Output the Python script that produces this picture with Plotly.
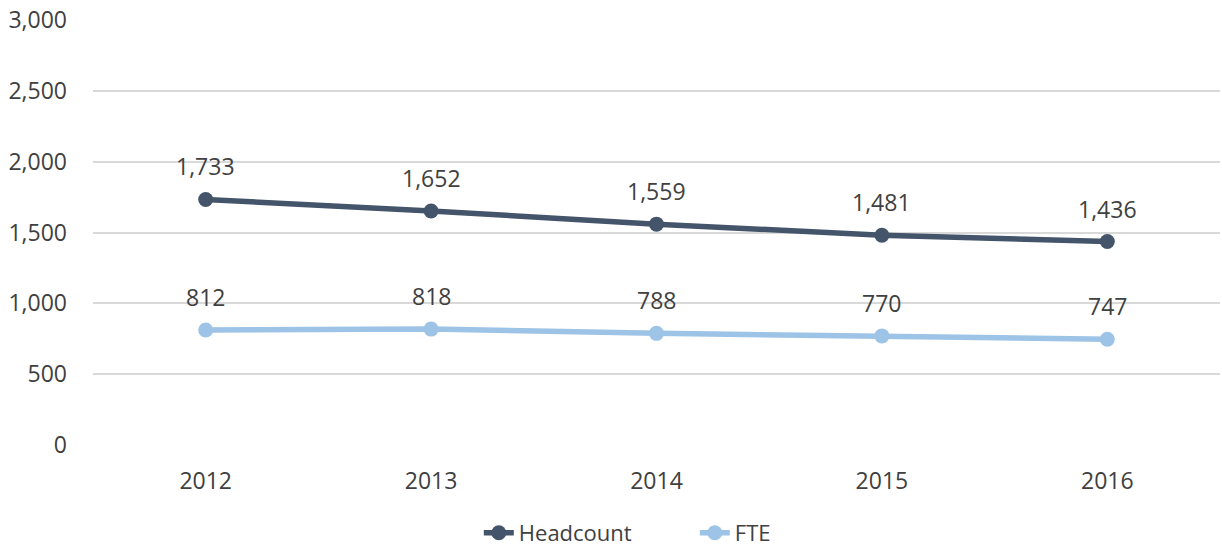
import plotly.graph_objects as go

years = ["2012", "2013", "2014", "2015", "2016"]
headcount = [1733, 1652, 1559, 1481, 1436]
fte = [812, 818, 788, 770, 747]

series = [
    ("Headcount", headcount, "#44546A"),
    ("FTE", fte, "#9DC3E6"),
]

FONT = "Open Sans"
TEXT_COLOR = "#404040"
SIZE = 23

fig = go.Figure()
for name, values, color in series:
    fig.add_trace(go.Scatter(
        x=years, y=values, name=name, mode="lines+markers",
        line=dict(color=color, width=5.5),
        marker=dict(color=color, size=15),
        hoverinfo="skip",
    ))
    # value labels above each point (category index positions)
    for i, v in enumerate(values):
        fig.add_annotation(
            x=i, y=v, xref="x", yref="y", text=f"{v:,}", showarrow=False,
            yshift=33, font=dict(family=FONT, size=SIZE, color=TEXT_COLOR),
        )

fig.update_layout(
    width=1222, height=546,
    margin=dict(l=93, r=2, t=20, b=101, autoexpand=False),
    plot_bgcolor="white", paper_bgcolor="white",
    font=dict(family=FONT, size=SIZE, color=TEXT_COLOR),
    legend=dict(
        orientation="h", x=0.534, xanchor="center", y=-0.207, yanchor="middle",
        entrywidth=171, entrywidthmode="pixels",
        font=dict(family=FONT, size=22, color=TEXT_COLOR),
    ),
    showlegend=True,
)
fig.update_xaxes(
    type="category", range=[-0.5, 4.5], showgrid=False, showline=False,
    zeroline=False, ticks="", ticklabelstandoff=20,
)
fig.update_yaxes(
    range=[0, 3000], tickvals=[0, 500, 1000, 1500, 2000, 2500, 3000],
    tickformat=",", showgrid=True, gridcolor="#D9D9D9", gridwidth=1.5,
    zeroline=False, showline=False, ticks="", ticklabelstandoff=25,
)

fig.write_html("out.html")
